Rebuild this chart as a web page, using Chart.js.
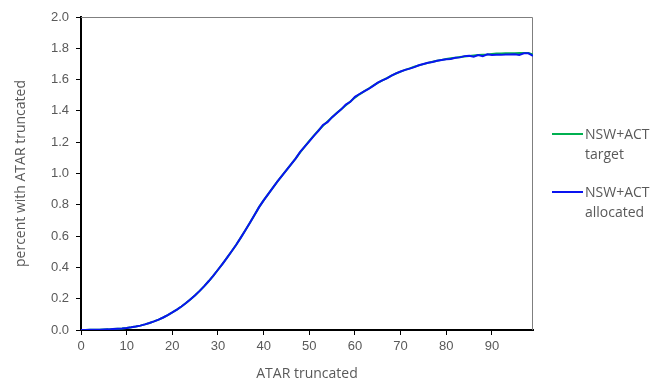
<!DOCTYPE html>
<html>
<head>
<meta charset="utf-8">
<script src="https://cdn.jsdelivr.net/npm/chart.js@4.4.1/dist/chart.umd.min.js"></script>
<style>
  html, body { margin: 0; padding: 0; background: #fff; }
  #wrap { position: relative; width: 659px; height: 385px; }
  canvas { position: absolute; left: 0; top: 0; }
  .leg { position: absolute; left: 552px; font: 14px "Open Sans", Arial, sans-serif; color: #595959; line-height: 20px; }
  .leg .sw { position: absolute; left: 0; top: 9px; width: 31px; height: 2px; }
  .leg .tx { margin-left: 33px; }
</style>
</head>
<body>
<div id="wrap">
  <canvas id="chart" width="659" height="385"></canvas>
  <div id="legend"></div>
</div>
<script>
// ATAR 0..99
const atar = [];
for (let i = 0; i <= 99; i++) atar.push(i);

const xTicks = [0, 10, 20, 30, 40, 50, 60, 70, 80, 90];
const yTicks = [0, 0.2, 0.4, 0.6, 0.8, 1.0, 1.2, 1.4, 1.6, 1.8, 2.0];

const allocated = [
  0.000, 0.000, 0.001, 0.001, 0.002, 0.003, 0.004, 0.006, 0.008, 0.010,
  0.013, 0.017, 0.022, 0.028, 0.036, 0.045, 0.055, 0.066, 0.080, 0.095,
  0.112, 0.130, 0.150, 0.172, 0.197, 0.222, 0.250, 0.280, 0.313, 0.348,
  0.385, 0.423, 0.462, 0.503, 0.545, 0.590, 0.637, 0.685, 0.735, 0.785,
  0.828, 0.868, 0.908, 0.948, 0.985, 1.022, 1.058, 1.095, 1.138, 1.172,
  1.205, 1.240, 1.272, 1.310, 1.328, 1.360, 1.385, 1.410, 1.440, 1.458,
  1.490, 1.508, 1.525, 1.540, 1.560, 1.580, 1.595, 1.608, 1.625, 1.640,
  1.652, 1.662, 1.670, 1.680, 1.692, 1.700, 1.708, 1.713, 1.720, 1.725,
  1.730, 1.732, 1.740, 1.742, 1.750, 1.752, 1.746, 1.757, 1.750, 1.762,
  1.757, 1.758, 1.758, 1.760, 1.760, 1.762, 1.758, 1.768, 1.768, 1.752
];

const target = [
  0.000, 0.000, 0.001, 0.001, 0.002, 0.003, 0.004, 0.006, 0.008, 0.010,
  0.013, 0.017, 0.022, 0.028, 0.036, 0.045, 0.055, 0.066, 0.080, 0.095,
  0.112, 0.130, 0.150, 0.172, 0.197, 0.222, 0.250, 0.280, 0.313, 0.348,
  0.385, 0.423, 0.462, 0.503, 0.545, 0.590, 0.637, 0.685, 0.735, 0.785,
  0.828, 0.868, 0.908, 0.948, 0.985, 1.022, 1.058, 1.095, 1.135, 1.172,
  1.208, 1.242, 1.275, 1.305, 1.333, 1.360, 1.386, 1.411, 1.436, 1.460,
  1.485, 1.506, 1.525, 1.543, 1.561, 1.579, 1.595, 1.610, 1.625, 1.639,
  1.651, 1.662, 1.672, 1.682, 1.691, 1.699, 1.707, 1.714, 1.720, 1.726,
  1.731, 1.736, 1.740, 1.744, 1.748, 1.751, 1.754, 1.757, 1.759, 1.761,
  1.764, 1.766, 1.767, 1.768, 1.769, 1.769, 1.770, 1.770, 1.770, 1.760
];

const seriesNames = [["NSW+ACT", "target"], ["NSW+ACT", "allocated"]];
const seriesColors = ["#00B050", "#0A14F0"];

const FONT = '"Liberation Sans", Arial, sans-serif';
const TFONT = '"Open Sans", Arial, sans-serif';
const GREY = '#595959';

// thin frame on top and right of the plot area
const framePlugin = {
  id: 'frame',
  beforeDatasetsDraw(chart) {
    const { ctx, chartArea: a } = chart;
    ctx.save();
    ctx.strokeStyle = '#7f7f7f';
    ctx.lineWidth = 1;
    ctx.beginPath();
    ctx.moveTo(a.left, a.top + 0.5);
    ctx.lineTo(a.right - 0.5, a.top + 0.5);
    ctx.lineTo(a.right - 0.5, a.bottom);
    ctx.stroke();
    ctx.restore();
  }
};

new Chart(document.getElementById('chart'), {
  type: 'line',
  data: {
    labels: atar,
    datasets: [
      {
        label: seriesNames[0].join(' '),
        data: target,
        borderColor: seriesColors[0],
        borderWidth: 2,
        pointRadius: 0,
        tension: 0,
        order: 1
      },
      {
        label: seriesNames[1].join(' '),
        data: allocated,
        borderColor: seriesColors[1],
        borderWidth: 2,
        pointRadius: 0,
        tension: 0,
        order: 0
      }
    ]
  },
  options: {
    responsive: false,
    animation: false,
    layout: { padding: { top: 17, right: 126, left: 0, bottom: 0 } },
    plugins: { legend: { display: false }, tooltip: { enabled: false } },
    scales: {
      x: {
        type: 'linear',
        min: 0,
        max: 99,
        afterBuildTicks: s => { s.ticks = xTicks.map(v => ({ value: v })); },
        afterFit: s => { s.height = 55; },
        grid: { display: true, drawOnChartArea: false, tickLength: 5, color: '#000', tickColor: '#000' },
        border: { color: '#000', width: 2 },
        ticks: { color: GREY, font: { family: FONT, size: 13 }, padding: 4, maxRotation: 0 },
        title: { display: true, text: 'ATAR truncated', color: GREY, font: { family: TFONT, size: 14 }, padding: { bottom: 3 } }
      },
      y: {
        min: 0,
        max: 2,
        afterBuildTicks: s => { s.ticks = yTicks.map(v => ({ value: v })); },
        afterFit: s => { s.width = 81; },
        grid: { display: true, drawOnChartArea: false, tickLength: 5, color: '#000', tickColor: '#000' },
        border: { color: '#000', width: 2 },
        ticks: { color: GREY, font: { family: FONT, size: 13 }, padding: 7, callback: v => v.toFixed(1) },
        title: { display: true, text: 'percent with ATAR truncated', color: GREY, font: { family: TFONT, size: 14 }, padding: { top: 13 } }
      }
    }
  },
  plugins: [framePlugin]
});

// legend to the right of the plot
const legendTops = [124, 182];
const legend = document.getElementById('legend');
seriesNames.forEach((name, i) => {
  const d = document.createElement('div');
  d.className = 'leg';
  d.style.top = legendTops[i] + 'px';
  d.innerHTML = '<div class="sw" style="background:' + seriesColors[i] + '"></div><div class="tx">' + name.join('<br>') + '</div>';
  legend.appendChild(d);
});
</script>
</body>
</html>
